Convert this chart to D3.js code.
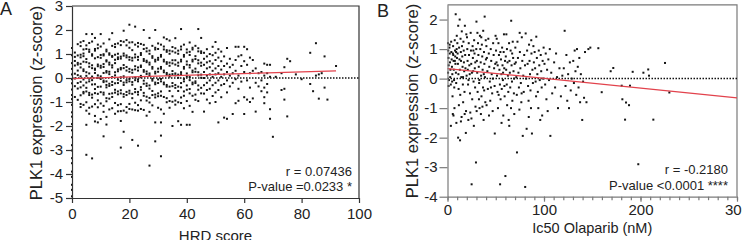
<!DOCTYPE html>
<html>
<head>
<meta charset="utf-8">
<script src="https://cdn.jsdelivr.net/npm/d3@7"></script>
<style>
  body { margin: 0; background: #fff; }
  svg { display: block; font-family: "Liberation Sans", Arial, sans-serif; }
</style>
</head>
<body>
<svg id="chart" width="742" height="240"></svg>
<script>
// Panel A: PLK1 z-score per HRD score (scores are integers, so points stack in columns)
const hrdColumns = [
  [0, [1.25,0.95,0.62,0.38,0.15,-0.05,-0.22,-0.48,-0.71,-0.88,-1.12,-1.43,-1.61,-1.92,-2.18,-2.47,-2.8,-3.02,-3.34,-3.55,-3.9,-4.12,-4.45,-4.66,-4.93]],
  [1, [1.06,0.71,0.52,0.18,-0.02,-0.34,-0.79,0.88]],
  [2, [1.41,0.94,0.63,0.56,0.12,-0.21,-0.44,-0.91,0.31]],
  [3, [1.49,1.33,0.86,0.59,0.44,0.07,-0.16,-0.39,-0.72,-1.08,-1.21,0.97]],
  [4, [1.54,1.02,0.91,0.68,0.36,0.29,-0.06,-0.31,-0.58,-0.64,-1.12,1.19]],
  [5, [1.83,1.36,1.21,0.79,0.66,0.24,0.09,-0.19,-0.41,-0.56,-1.01,-1.36,-1.95,-3.2]],
  [6, [1.46,1.18,1.09,0.61,0.47,0.19,-0.03,-0.14,-0.62,-0.71,-1.24,-1.49]],
  [7, [1.83,1.52,0.99,0.93,0.53,0.41,0.06,-0.09,-0.27,-0.69,-0.82,-1.19,-3.35]],
  [8, [1.67,1.21,1.14,0.82,0.39,0.34,0.21,-0.26,-0.46,-0.63,-1.09,-1.58,-1.81]],
  [9, [1.39,1.24,0.87,0.56,0.49,0.11,0.01,-0.37,-0.66,-0.93,-1.22,-1.85]],
  [10, [1.83,1.31,0.96,0.84,0.51,0.43,0.07,-0.04,-0.36,-0.59,-1.06,-1.71]],
  [11, [1.44,0.99,0.94,0.58,0.46,0.21,-0.11,-0.17,-0.61,-0.69,-1.16,-1.41,-2.43]],
  [12, [1.18,1.11,0.74,0.69,0.29,0.23,-0.14,-0.29,-0.39,-0.84,-0.97,-1.62,-1.94]],
  [13, [1.61,1.03,0.97,0.64,0.56,0.26,0.16,-0.24,-0.33,-0.66,-0.86,-1.31]],
  [14, [1.87,1.34,0.92,0.88,0.53,0.44,0.04,-0.16,-0.29,-0.64,-0.79,-1.26]],
  [15, [1.41,1.29,0.97,0.76,0.62,0.24,0.11,-0.22,-0.49,-0.61,-1.04,-1.49]],
  [16, [1.44,1.01,0.86,0.79,0.36,0.28,-0.07,-0.21,-0.56,-0.68,-1.13,-1.39]],
  [17, [1.54,1.37,0.89,0.81,0.42,0.36,0.03,-0.12,-0.51,-0.64,-1.09,-1.38,-1.79,-2.9]],
  [18, [1.97,1.51,1.02,0.93,0.54,0.41,0.07,-0.19,-0.29,-0.67,-0.78,-1.36,-2.24]],
  [19, [1.58,1.36,0.94,0.86,0.46,0.31,-0.09,-0.18,-0.58,-0.71,-1.21,-1.44]],
  [20, [2.22,1.48,1.26,0.87,0.76,0.38,0.26,-0.04,-0.14,-0.53,-0.64,-1.08,-1.29]],
  [21, [1.49,1.16,0.84,0.73,0.34,0.22,-0.17,-0.28,-0.66,-0.84,-1.31,-2.58]],
  [22, [2.14,1.39,0.98,0.86,0.49,0.36,0.02,-0.09,-0.46,-0.59,-1.03,-1.34]],
  [23, [1.46,1.31,0.88,0.76,0.44,0.31,-0.06,-0.14,-0.58,-0.69,-1.13,-1.36,-2.82]],
  [24, [1.42,1.04,0.96,0.52,0.46,0.09,0.03,-0.38,-0.49,-0.93,-1.29]],
  [25, [2.0,1.38,1.21,0.79,0.71,0.33,0.26,-0.11,-0.24,-0.62,-0.74,-1.33]],
  [26, [1.24,1.11,0.72,0.66,0.27,0.17,-0.23,-0.33,-0.78,-0.94,-1.57]],
  [27, [1.67,1.14,1.01,0.64,0.56,0.19,0.11,-0.31,-0.44,-0.83,-1.02,-1.41,-3.65]],
  [28, [1.34,0.91,0.84,0.46,0.39,-0.04,-0.11,-0.54,-0.71,-1.14]],
  [29, [2.0,1.26,1.19,0.76,0.69,0.26,0.19,-0.19,-0.26,-0.69,-0.81,-1.85,-2.64]],
  [30, [1.44,1.21,0.84,0.76,0.39,0.26,-0.06,-0.21,-0.64,-0.76,-1.24]],
  [31, [1.39,0.96,0.89,0.46,0.39,-0.04,-0.14,-0.56,-0.74,-1.31,-1.85,-2.4,-3.26]],
  [32, [1.69,1.31,1.19,0.76,0.69,0.31,0.24,-0.19,-0.26,-0.79,-1.49]],
  [33, [1.62,1.16,1.09,0.66,0.59,0.21,0.14,-0.29,-0.36,-0.84,-1.01]],
  [34, [1.56,1.14,1.01,0.64,0.51,0.14,0.06,-0.36,-0.54,-0.96,-1.24]],
  [35, [1.29,1.11,0.74,0.61,0.29,0.16,-0.21,-0.34,-0.76,-0.99,-2.0]],
  [36, [1.66,1.24,1.06,0.74,0.56,0.19,0.11,-0.29,-0.41,-0.94,-1.11]],
  [37, [1.14,1.01,0.64,0.51,0.14,0.01,-0.36,-0.54,-1.01,-1.8]],
  [38, [2.04,1.31,1.19,0.76,0.69,0.24,0.16,-0.21,-0.39,-0.81,-1.04,-1.95]],
  [39, [1.39,0.96,0.89,0.46,0.39,-0.04,-0.14,-0.56,-0.74,-1.26]],
  [40, [1.19,1.06,0.69,0.56,0.19,0.06,-0.31,-0.49,-0.96,-1.95]],
  [41, [1.48,1.09,0.96,0.54,0.44,0.04,-0.09,-0.46,-0.64,-1.16,-1.95]],
  [42, [1.26,1.19,0.76,0.69,0.31,0.24,-0.19,-0.26,-0.74,-1.41]],
  [43, [1.34,0.91,0.79,0.39,0.26,-0.14,-0.21,-0.69,-0.91]],
  [44, [2.04,1.24,1.11,0.74,0.61,0.24,0.11,-0.31,-0.49,-0.96]],
  [45, [1.67,1.11,1.04,0.64,0.51,0.14,0.01,-0.41,-0.64]],
  [46, [1.05,0.8,0.55,0.25,0.0,-0.3,-0.65,-1.4]],
  [47, [1.2,0.9,0.65,0.4,0.1,-0.2,-0.5,-0.9]],
  [48, [1.0,0.7,0.45,0.15,-0.1,-0.45,-1.05]],
  [49, [1.3,0.95,0.6,0.3,0.05,-0.3,-0.75]],
  [50, [1.5,1.05,0.75,0.4,0.15,-0.2,-0.6,-1.0]],
  [51, [1.2,0.85,0.5,0.2,-0.1,-0.5,-1.85]],
  [52, [1.1,0.7,0.35,0.05,-0.3,-0.8]],
  [53, [0.9,0.5,0.15,-0.25,-1.65]],
  [54, [1.25,0.6,0.25,-0.1,-0.6,-1.7]],
  [55, [0.8,0.45,0.1,-0.35]],
  [56, [0.55,0.2,-0.2,-1.5]],
  [57, [1.3,0.75,0.3,-0.05,-1.05]],
  [58, [1.3,0.9,0.1,-0.45,-0.95]],
  [59, [0.95,0.5,-0.15]],
  [60, [1.3,0.7,0.25,-0.8,-1.5]],
  [61, [1.2,0.55,-0.1,-0.9]],
  [62, [0.85,0.2,-0.4,-1.0]],
  [63, [0.75,0.3,-0.85]],
  [64, [0.4,-0.2,-1.4]],
  [65, [0.2,-0.35]],
  [66, [0.25,-0.1,-0.55]],
  [67, [0.6,0.1,-0.4,-0.8,-1.05]],
  [68, [0.55,0.2,-0.25,-0.6]],
  [69, [0.55,0.05,-1.3,-1.7]],
  [70, [-2.45]],
  [71, [0.05]],
  [73, [0.2,-0.5]],
  [74, [0.45,-0.45,-0.9]],
  [75, [0.8,-1.6]],
  [76, [0.7]],
  [78, [0.15]],
  [80, [-0.05]],
  [83, [1.05,-0.25]],
  [84, [-0.55]],
  [85, [1.45,0.1]],
  [86, [0.15,-0.86]],
  [87, [0.2]],
  [88, [0.9,-0.4]],
  [89, [-0.9]],
  [92, [0.5]]
];

// Panel B: [IC50 Olaparib (nM), PLK1 z-score]
const olaparibPoints = [
  [0.5,1.2],[0.8,0.95],[1,0.7],[1.2,0.45],[0.6,0.2],[1.5,-0.05],[1.1,-0.25],[2,1.05],[2.3,0.85],[2.6,0.55],
  [3,0.3],[2.8,0.05],[3.4,-0.2],[3.8,1.25],[4,0.9],[4.3,0.65],[4.6,0.4],[5,0.15],[4.8,-0.1],[5.2,-0.6],
  [5.5,-1.2],[5.8,1.1],[6,0.8],[6.3,0.6],[6.5,0.3],[6.8,-0.05],[7,-0.3],[7.2,-1.0],[7.5,1.3],[7.8,0.95],
  [8,0.75],[8.2,0.5],[8.5,2.18],[8.7,0.2],[9,-0.15],[9.2,-1.5],[9.5,1.0],[9.8,0.7],[3.5,-1.6],[6.2,-1.25],
  [8.9,0.9],[2.2,1.15],[5.6,0.85],[7.6,0.6],[9.6,1.45],
  [10.2,1.2],[10.5,0.85],[10.8,0.5],[11,-2.0],[11.3,0.15],[11.5,-0.35],[11.8,-0.9],[12,1.05],[12.6,2.0],[12.4,0.65],
  [12.8,0.3],[13,-2.09],[13.2,-0.55],[13.5,1.35],[13.8,0.9],[14,0.6],[14.3,0.05],[14.6,-1.3],[15,1.1],[15.3,0.75],
  [15.6,0.4],[15.9,-0.2],[16.2,-0.8],[16.5,1.25],[16.8,0.95],[17,0.55],[17.3,0.25],[17.6,-0.45],[18,1.79],[18.3,0.8],
  [18.6,0.35],[19,-1.84],[19.2,-1.1],[19.5,1.5],[19.8,0.1],[11.1,1.79],[13.9,-1.45],[16.1,0.05],[17.8,-1.2],[14.8,1.6],
  [20.2,1.4],[20.5,1.0],[20.8,0.6],[21,0.3],[21.3,-0.2],[21.6,-1.4],[22,1.2],[22.3,0.8],[22.6,0.45],[23,0.15],
  [23.3,-0.5],[23.6,-1.15],[24,1.55],[24.3,0.95],[24.6,0.5],[25,-3.58],[25.3,0.2],[25.6,-0.7],[26,1.1],[26.3,0.7],
  [26.6,0.25],[27,-0.1],[27.3,-1.6],[27.6,1.3],[28,0.85],[28.3,0.35],[28.6,-0.3],[29,-0.95],[29.5,-2.84],[29.8,1.0],
  [30,1.93],[21.8,-0.05],[24.8,-1.35],[26.8,0.95],[28.8,0.55],
  [30.4,0.6],[30.8,0.2],[31.2,-0.45],[31.6,1.2],[32,0.8],[32.4,0.4],[32.8,-0.15],[33.2,-1.0],[33.6,1.45],[34,1.0],
  [34.4,0.55],[34.8,0.1],[35.2,-0.6],[35.6,1.15],[36,0.75],[36.4,0.3],[36.8,-0.3],[37,1.62],[37.4,-1.4],[37.8,0.9],
  [38.2,0.5],[38.5,2.1],[38.8,0.05],[39.2,-0.8],[39.6,1.3],[31,1.55],[33,-0.05],[35,1.4],[36.2,-0.95],[38,-0.4],
  [39.8,0.65],[32.6,-0.7],[34.6,-1.2],[30.2,-1.1],[37.6,0.15],
  [40.3,1.1],[40.8,0.7],[41.3,0.25],[41.8,-0.35],[42.3,1.35],[42.8,0.85],[43.3,0.4],[43.8,-0.1],[44.3,-0.75],[44.8,1.0],
  [45.3,0.6],[45.8,0.15],[46.3,-0.5],[46.8,-1.1],[47.3,1.2],[47.8,0.8],[48.3,0.35],[48.8,-0.25],[49,-1.86],[49.5,0.5],
  [40.5,-0.9],[43,-1.25],[45,-0.3],[47,0.0],[49.8,1.45],
  [50.3,0.95],[50.8,0.55],[51.3,0.1],[51.8,-0.45],[52.3,-1.0],[52.8,1.2],[53.3,0.8],[53.8,0.3],[54.3,-0.2],[54.5,-3.58],
  [55,-0.7],[55.4,0.65],[55.8,0.15],[56.2,-0.35],[56.6,1.05],[57,0.45],[57.4,-0.05],[57.8,-1.25],[58.2,0.9],[58.5,1.5],
  [58.8,0.35],[59.2,-0.6],[59.6,0.6],[51,1.35],[53,-0.55],[56,-1.5],[57.6,0.2],[59,-0.25],[52,0.45],[54.8,0.9],
  [60,-3.3],[60.4,0.75],[60.8,0.3],[61,1.5],[61.4,-0.2],[61.8,-0.9],[62.2,0.55],[62.6,0.1],[63,-0.45],[63.4,-1.4],
  [63.8,1.2],[64.2,0.6],[64.6,0.2],[65,-0.3],[65.4,0.95],[66,1.96],[66.4,0.45],[66.8,-0.1],[67.2,-0.75],[67.6,1.25],
  [68,0.7],[68.4,0.25],[68.8,-0.5],[69.2,-1.2],[69.6,0.5],[61.6,1.0],[64,-1.6],[65.8,-1.0],[67,0.85],[69,0.0],
  [70.3,1.05],[70.8,0.55],[71.3,0.05],[71.8,-0.55],[72,-2.5],[72.5,1.25],[73,0.7],[73.5,0.2],[74,-0.3],[74.5,-1.05],
  [75,0.9],[75.5,0.35],[76,-0.15],[76.5,-0.8],[77,1.4],[77.5,0.6],[78,-1.94],[78.5,0.1],[79,-0.45],[79.5,0.8],
  [74.8,1.55],[76.8,-0.5],
  [80.3,0.45],[80.5,-3.67],[81,1.53],[81.5,0.0],[82,-1.7],[82.5,0.95],[83,0.5],[83.5,-0.25],[84,-0.75],[84.5,1.15],
  [85,0.6],[85.5,0.15],[86,-0.4],[86.5,-1.0],[87,0.85],[87.5,-1.86],[88,0.3],[88.5,-0.15],[89,1.1],[89.5,0.55],
  [86.8,1.3],[84.2,-1.3],
  [90.3,0.9],[90.8,0.35],[91.3,-0.1],[91.8,-0.6],[92,1.42],[92.6,0.7],[93.1,0.15],[93.6,-0.45],[94.1,-1.0],[94.6,0.95],
  [95.1,0.45],[95.6,-0.05],[96.1,-1.4],[96.6,0.8],[97.1,0.25],[97.6,-0.3],[98.1,-1.25],[98.6,0.6],[99.1,0.0],[99.6,1.05],
  [100.5,0.5],[101.2,-0.2],[101.8,0.85],[102.5,-0.7],[103.2,0.3],[103.8,-1.1],[104.5,0.65],[105.2,-0.05],[106,1.0],[106.6,-1.94],
  [107.5,0.2],[108.5,-0.5],
  [110.5,0.55],[111.5,-0.3],[112.5,0.85],[113.5,0.05],[114.5,-1.0],[116,0.35],[117.5,-0.6],[119,0.1],
  [120.5,0.35],[121.4,1.62],[122.3,-0.25],[123.2,0.8],[124.1,-0.75],[125,0.15],[125.9,-1.0],[126.8,0.55],[127.7,-0.4],[128.8,0.0],
  [130.3,0.6],[131,-0.15],[131.8,0.95],[132.6,0.25],[133.4,-0.55],[134.2,1.0],[135,0.4],[135.8,-0.3],[136.6,0.7],[137.4,-0.8],
  [138.2,0.15],[139.6,-1.4],
  [140.5,-0.1],[141.5,-0.65],[142.5,0.9],[144,-0.8],[146,1.0],[148,1.05],
  [156.3,1.03],[159.8,-0.46],[169.1,0.25],[171.8,0.36],[180.5,-0.24],[181.2,-0.7],[184,-1.39],[185,-0.81],[188.1,-0.9],
  [189.1,-0.24],[191.9,0.23],[197.7,-2.9],[203,0.2],[208,0.31],[208.8,0.1],[213.3,-1.39],[225.4,0.53],[229.9,-0.47]
];

// linear fit end points
const fitA = [[0, -0.03], [92, 0.3]];
const fitB = [[0, 0.34], [300, -0.65]];

const ticksAx = [0, 20, 40, 60, 80, 100];
const ticksAy = [-5, -4, -3, -2, -1, 0, 1, 2, 3];
const ticksBx = [0, 100, 200, 300];
const ticksBy = [-4, -3, -2, -1, 0, 1, 2];

const statsA = ['r = 0.07436', 'P-value =0.0233 *'];
const statsB = ['r = -0.2180', 'P-value <0.0001 ****'];

const svg = d3.select('#chart');

function drawPanel(p) {
  const g = svg.append('g');

  const x = d3.scaleLinear().domain(p.xDomain).range([p.left, p.right]);
  const y = d3.scaleLinear().domain(p.yDomain).range([p.bottom, p.top]);

  // frame: top and right edges
  g.append('path')
    .attr('d', `M${p.left},${p.top}H${p.right}V${p.bottom}`)
    .attr('fill', 'none')
    .attr('stroke', p.axisColor)
    .attr('stroke-width', 1.2);

  // dotted zero line
  g.append('line')
    .attr('x1', x(p.xDomain[0]))
    .attr('x2', x(p.xDomain[1]))
    .attr('y1', y(0))
    .attr('y2', y(0))
    .attr('stroke', '#111')
    .attr('stroke-width', 1.5)
    .attr('stroke-dasharray', '1.5,1.5');

  // points
  g.append('g')
    .selectAll('rect')
    .data(p.points)
    .join('rect')
    .attr('x', d => x(d[0]) - 1)
    .attr('y', d => y(d[1]) - 1)
    .attr('width', 2)
    .attr('height', 2)
    .attr('fill', '#151515');

  // fit line
  g.append('path')
    .datum(p.fit)
    .attr('d', d3.line().x(d => x(d[0])).y(d => y(d[1])))
    .attr('fill', 'none')
    .attr('stroke', '#e2424c')
    .attr('stroke-width', 1.3);

  // axes
  const xAxis = g.append('g')
    .attr('transform', `translate(0,${p.bottom})`)
    .call(d3.axisBottom(x).tickValues(p.xTicks).tickFormat(d => String(d))
      .tickSize(5).tickSizeOuter(0).tickPadding(p.xPad));

  if (p.minorX) {
    g.append('g')
      .attr('transform', `translate(0,${p.bottom})`)
      .call(d3.axisBottom(x).tickValues(p.minorX).tickFormat('').tickSize(3.5).tickSizeOuter(0))
      .call(a => a.select('.domain').remove());
  }

  const yAxis = g.append('g')
    .attr('transform', `translate(${p.left},0)`)
    .call(d3.axisLeft(y).tickValues(p.yTicks).tickFormat(d => String(d))
      .tickSize(p.yTickSize).tickSizeOuter(0).tickPadding(p.yPad));

  [xAxis, yAxis].forEach(a => {
    a.attr('font-family', null).attr('font-size', null);
    a.selectAll('.domain, .tick line').attr('stroke', p.axisColor).attr('stroke-width', 1.2);
    a.selectAll('text').attr('fill', '#222').style('font-size', '15px');
  });
  g.selectAll('.tick line').attr('stroke', p.axisColor).attr('stroke-width', 1.2);

  // stats text
  g.append('text')
    .attr('x', p.statX).attr('y', p.statY[0])
    .attr('text-anchor', 'end').style('font-size', '13px').attr('fill', '#222')
    .text(p.stats[0]);
  g.append('text')
    .attr('x', p.statX).attr('y', p.statY[1])
    .attr('text-anchor', 'end').style('font-size', '13px').attr('fill', '#222')
    .text(p.stats[1]);

  // axis titles
  g.append('text')
    .attr('x', (p.left + p.right) / 2).attr('y', p.xTitleY)
    .attr('text-anchor', 'middle').style('font-size', p.xTitleSize).attr('fill', '#222')
    .text(p.xTitle);

  g.append('text')
    .attr('transform', `translate(${p.yTitleX},${p.yTitleCY}) rotate(-90)`)
    .attr('text-anchor', 'middle').style('font-size', '16.5px').attr('fill', '#222')
    .text('PLK1 expression (z-score)');

  // panel letter
  g.append('text')
    .attr('x', p.letterX).attr('y', p.letterY)
    .style('font-size', '18px').attr('fill', '#222')
    .text(p.letter);
}

const pointsA = hrdColumns.flatMap(([hrd, zs]) => zs.map(z => [hrd, z]));

drawPanel({
  letter: 'A', letterX: 0, letterY: 15,
  points: pointsA, fit: fitA,
  xDomain: [0, 100], yDomain: [-5, 3],
  left: 72, right: 359, top: 6, bottom: 198,
  xTicks: ticksAx, yTicks: ticksAy, xPad: 5,
  yTickSize: 6, yPad: 3,
  axisColor: '#333',
  stats: statsA, statX: 352, statY: [175.5, 191],
  xTitle: 'HRD score', xTitleY: 241, xTitleSize: '15px',
  yTitleX: 42, yTitleCY: 103
});

drawPanel({
  letter: 'B', letterX: 377, letterY: 16.5,
  points: olaparibPoints, fit: fitB,
  xDomain: [0, 300], yDomain: [-4, 2.5],
  left: 447.5, right: 737, top: 4.8, bottom: 196.7,
  xTicks: ticksBx, yTicks: ticksBy, xPad: 2.5,
  minorX: d3.range(0, 301, 10),
  yTickSize: 8, yPad: 2,
  axisColor: '#7a7a7a',
  stats: statsB, statX: 728, statY: [174, 189.5],
  xTitle: 'Ic50 Olaparib (nM)', xTitleY: 233, xTitleSize: '14.5px',
  yTitleX: 418, yTitleCY: 101
});
</script>
</body>
</html>
